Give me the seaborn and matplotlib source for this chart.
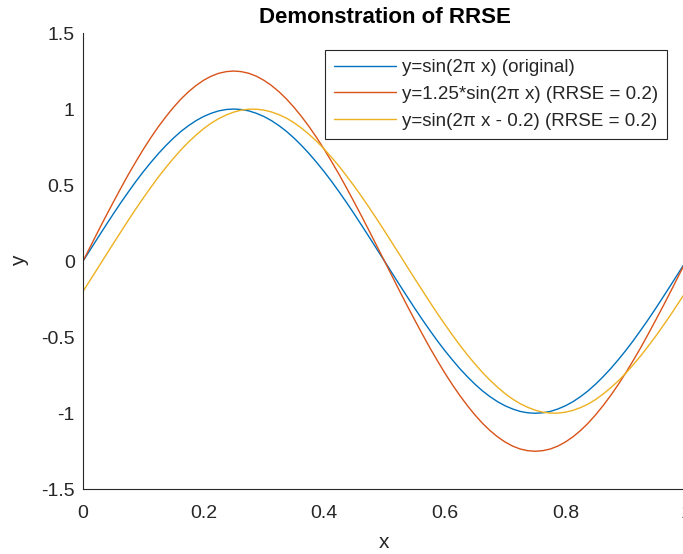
import numpy as np
import pandas as pd
import matplotlib
matplotlib.use("Agg")
import matplotlib.pyplot as plt
import seaborn as sns

# x positions (step 0.0125) and values
x_vals = [round(0.0125 * i, 4) for i in range(81)]

y_original = [0.000, 0.078, 0.156, 0.233, 0.309, 0.383, 0.454, 0.523, 0.588, 0.649,
              0.707, 0.760, 0.809, 0.853, 0.891, 0.924, 0.951, 0.972, 0.988, 0.997,
              1.000, 0.997, 0.988, 0.972, 0.951, 0.924, 0.891, 0.853, 0.809, 0.760,
              0.707, 0.649, 0.588, 0.523, 0.454, 0.383, 0.309, 0.233, 0.156, 0.078,
              0.000, -0.078, -0.156, -0.233, -0.309, -0.383, -0.454, -0.523, -0.588, -0.649,
              -0.707, -0.760, -0.809, -0.853, -0.891, -0.924, -0.951, -0.972, -0.988, -0.997,
              -1.000, -0.997, -0.988, -0.972, -0.951, -0.924, -0.891, -0.853, -0.809, -0.760,
              -0.707, -0.649, -0.588, -0.523, -0.454, -0.383, -0.309, -0.233, -0.156, -0.078,
              0.000]

y_scaled = [0.000, 0.098, 0.196, 0.292, 0.386, 0.478, 0.568, 0.653, 0.735, 0.812,
            0.884, 0.950, 1.011, 1.066, 1.114, 1.155, 1.189, 1.216, 1.235, 1.246,
            1.250, 1.246, 1.235, 1.216, 1.189, 1.155, 1.114, 1.066, 1.011, 0.950,
            0.884, 0.812, 0.735, 0.653, 0.568, 0.478, 0.386, 0.292, 0.196, 0.098,
            0.000, -0.098, -0.196, -0.292, -0.386, -0.478, -0.568, -0.653, -0.735, -0.812,
            -0.884, -0.950, -1.011, -1.066, -1.114, -1.155, -1.189, -1.216, -1.235, -1.246,
            -1.250, -1.246, -1.235, -1.216, -1.189, -1.155, -1.114, -1.066, -1.011, -0.950,
            -0.884, -0.812, -0.735, -0.653, -0.568, -0.478, -0.386, -0.292, -0.196, -0.098,
            0.000]

y_shifted = [-0.199, -0.121, -0.043, 0.036, 0.114, 0.191, 0.268, 0.343, 0.415, 0.485,
             0.553, 0.616, 0.676, 0.732, 0.783, 0.829, 0.871, 0.907, 0.937, 0.961,
             0.980, 0.993, 0.999, 0.999, 0.993, 0.981, 0.963, 0.940, 0.910, 0.874,
             0.833, 0.788, 0.737, 0.681, 0.622, 0.558, 0.492, 0.422, 0.350, 0.275,
             0.199, 0.121, 0.043, -0.036, -0.114, -0.191, -0.268, -0.343, -0.415, -0.485,
             -0.553, -0.616, -0.676, -0.732, -0.783, -0.829, -0.871, -0.907, -0.937, -0.961,
             -0.980, -0.993, -0.999, -0.999, -0.993, -0.981, -0.963, -0.940, -0.910, -0.874,
             -0.833, -0.788, -0.737, -0.681, -0.622, -0.558, -0.492, -0.422, -0.350, -0.275,
             -0.199]

labels = ["y=sin(2\u03c0 x) (original)",
          "y=1.25*sin(2\u03c0 x) (RRSE = 0.2)",
          "y=sin(2\u03c0 x - 0.2) (RRSE = 0.2)"]
colors = ["#0072BD", "#D95319", "#EDB120"]

x_ticks = [0, 0.2, 0.4, 0.6, 0.8, 1]
x_tick_labels = ["0", "0.2", "0.4", "0.6", "0.8", "1"]
y_ticks = [-1.5, -1, -0.5, 0, 0.5, 1, 1.5]
y_tick_labels = ["-1.5", "-1", "-0.5", "0", "0.5", "1", "1.5"]

sns.set_style("white")
plt.rcParams["font.family"] = ["Liberation Sans", "DejaVu Sans"]

n = len(x_vals)
df = pd.DataFrame({
    "x": x_vals * 3,
    "y": y_original + y_scaled + y_shifted,
    "series": [labels[0]] * n + [labels[1]] * n + [labels[2]] * n,
})

fig = plt.figure(figsize=(6.83, 5.54), dpi=100)
ax = fig.add_axes([83 / 683, (554 - 489.3) / 554, 603 / 683, 456.3 / 554])

sns.lineplot(data=df, x="x", y="y", hue="series", palette=colors, hue_order=labels,
             linewidth=1.0, ax=ax, legend=True, sort=False, estimator=None)

ax.set_xlim(0, 1)
ax.set_ylim(-1.5, 1.5)
ax.set_xticks(x_ticks)
ax.set_xticklabels(x_tick_labels)
ax.set_yticks(y_ticks)
ax.set_yticklabels(y_tick_labels)

axis_col = "#262626"
for side in ["top", "right"]:
    ax.spines[side].set_visible(False)
for side in ["left", "bottom"]:
    ax.spines[side].set_color(axis_col)
    ax.spines[side].set_linewidth(0.8)
ax.tick_params(direction="in", length=5, width=1.2, colors=axis_col,
               labelsize=14, labelcolor=axis_col)
ax.tick_params(axis="x", pad=11.5)
ax.tick_params(axis="y", pad=6)

ax.set_xlabel("x", fontsize=15, color=axis_col, labelpad=8)
ax.set_ylabel("y", fontsize=15, color=axis_col, labelpad=9)
ax.set_title("Demonstration of RRSE", fontsize=16, fontweight="bold", color="black", pad=7)

leg = ax.legend(loc="upper right", bbox_to_anchor=(667 / 683, 1 - 50 / 554),
                bbox_transform=fig.transFigure, borderaxespad=0, fontsize=13.5,
                frameon=True, fancybox=False, edgecolor="#262626", framealpha=1,
                handlelength=3.3, handletextpad=0.3, labelspacing=0.5, borderpad=0.5)
leg.get_frame().set_linewidth(0.8)
leg.set_title(None)

fig.savefig("out.png", dpi=100)
